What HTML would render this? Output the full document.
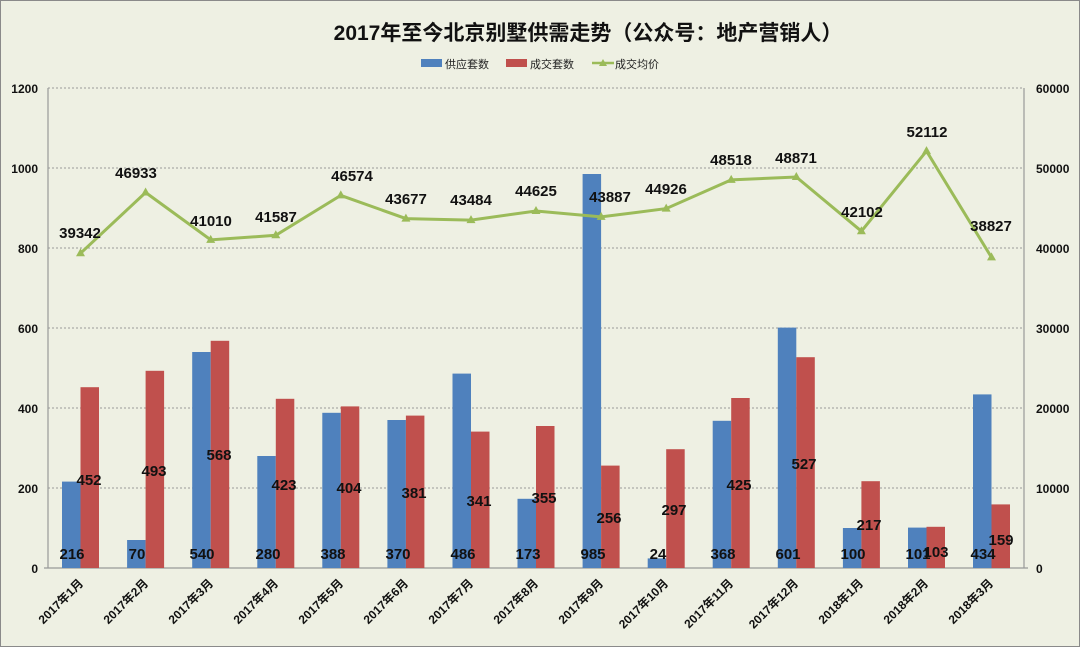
<!DOCTYPE html><html><head><meta charset="utf-8"><style>body{margin:0;background:#fff}svg{display:block}text{font-family:"Liberation Sans","Noto Sans CJK SC",sans-serif}</style></head><body>
<svg width="1080" height="647" viewBox="0 0 1080 647">
<rect x="0.5" y="0.5" width="1079" height="646" fill="#eef0e3" stroke="#8a8a8a"/>
<text x="588" y="40" font-size="21" font-weight="bold" text-anchor="middle" fill="#111">2017年至今北京别墅供需走势（公众号：地产营销人）</text>
<rect x="421" y="59" width="21" height="8" fill="#4f81bd"/><text x="445" y="68" font-size="11" fill="#222">供应套数</text>
<rect x="506" y="59" width="21" height="8" fill="#c0504d"/><text x="530" y="68" font-size="11" fill="#222">成交套数</text>
<line x1="592" y1="63" x2="614" y2="63" stroke="#9bbb59" stroke-width="2.5"/><polygon points="603,59 607,66 599,66" fill="#9bbb59"/><text x="615" y="68" font-size="11" fill="#222">成交均价</text>
<g stroke="#9a9a9a" stroke-dasharray="2,2" stroke-width="1"><line x1="48" y1="88" x2="1024" y2="88"/><line x1="48" y1="168" x2="1024" y2="168"/><line x1="48" y1="248" x2="1024" y2="248"/><line x1="48" y1="328" x2="1024" y2="328"/><line x1="48" y1="408" x2="1024" y2="408"/><line x1="48" y1="488" x2="1024" y2="488"/></g>
<g stroke="#999" stroke-width="1.2"><line x1="48" y1="88" x2="48" y2="568"/><line x1="1024" y1="88" x2="1024" y2="568"/><line x1="44" y1="568" x2="1028" y2="568"/></g>
<g font-size="12" font-weight="bold" fill="#111" text-anchor="end"><text x="38" y="93">1200</text><text x="38" y="173">1000</text><text x="38" y="253">800</text><text x="38" y="333">600</text><text x="38" y="413">400</text><text x="38" y="493">200</text><text x="38" y="573">0</text></g>
<g font-size="12" font-weight="bold" fill="#111" text-anchor="start"><text x="1036" y="93">60000</text><text x="1036" y="173">50000</text><text x="1036" y="253">40000</text><text x="1036" y="333">30000</text><text x="1036" y="413">20000</text><text x="1036" y="493">10000</text><text x="1036" y="573">0</text></g>
<g fill="#4f81bd">
<rect x="62" y="481.6" width="18.5" height="86.4"/><rect x="127.1" y="540" width="18.5" height="28"/><rect x="192.2" y="352" width="18.5" height="216"/><rect x="257.3" y="456" width="18.5" height="112"/><rect x="322.3" y="412.8" width="18.5" height="155.2"/><rect x="387.4" y="420" width="18.5" height="148"/><rect x="452.5" y="373.6" width="18.5" height="194.4"/><rect x="517.5" y="498.8" width="18.5" height="69.2"/><rect x="582.6" y="174" width="18.5" height="394"/><rect x="647.7" y="558.4" width="18.5" height="9.6"/><rect x="712.7" y="420.8" width="18.5" height="147.2"/><rect x="777.8" y="327.6" width="18.5" height="240.4"/><rect x="842.9" y="528" width="18.5" height="40"/><rect x="908" y="527.6" width="18.5" height="40.4"/><rect x="973" y="394.4" width="18.5" height="173.6"/></g>
<g fill="#c0504d">
<rect x="80.5" y="387.2" width="18.5" height="180.8"/><rect x="145.6" y="370.8" width="18.5" height="197.2"/><rect x="210.7" y="340.8" width="18.5" height="227.2"/><rect x="275.8" y="398.8" width="18.5" height="169.2"/><rect x="340.8" y="406.4" width="18.5" height="161.6"/><rect x="405.9" y="415.6" width="18.5" height="152.4"/><rect x="471" y="431.6" width="18.5" height="136.4"/><rect x="536" y="426" width="18.5" height="142"/><rect x="601.1" y="465.6" width="18.5" height="102.4"/><rect x="666.2" y="449.2" width="18.5" height="118.8"/><rect x="731.2" y="398" width="18.5" height="170"/><rect x="796.3" y="357.2" width="18.5" height="210.8"/><rect x="861.4" y="481.2" width="18.5" height="86.8"/><rect x="926.5" y="526.8" width="18.5" height="41.2"/><rect x="991.5" y="504.4" width="18.5" height="63.6"/></g>
<g font-size="15" font-weight="bold" fill="#111" text-anchor="middle">
<text x="72" y="559">216</text><text x="137" y="559">70</text><text x="202" y="559">540</text><text x="268" y="559">280</text><text x="333" y="559">388</text><text x="398" y="559">370</text><text x="463" y="559">486</text><text x="528" y="559">173</text><text x="593" y="559">985</text><text x="658" y="559">24</text><text x="723" y="559">368</text><text x="788" y="559">601</text><text x="853" y="559">100</text><text x="918" y="559">101</text><text x="983" y="559">434</text>
<text x="89" y="485">452</text><text x="154" y="476">493</text><text x="219" y="460">568</text><text x="284" y="490">423</text><text x="349" y="493">404</text><text x="414" y="498">381</text><text x="479" y="506">341</text><text x="544" y="503">355</text><text x="609" y="523">256</text><text x="674" y="515">297</text><text x="739" y="490">425</text><text x="804" y="469">527</text><text x="869" y="530">217</text><text x="936" y="557">103</text><text x="1001" y="545">159</text>
</g>
<polyline fill="none" stroke="#9bbb59" stroke-width="3" points="80.5,253.3 145.6,192.5 210.7,239.9 275.8,235.3 340.8,195.4 405.9,218.6 471,220.1 536,211 601.1,216.9 666.2,208.6 731.2,179.9 796.3,177 861.4,231.2 926.5,151.1 991.5,257.4"/>
<g fill="#9bbb59">
<polygon points="80.5,248.3 85,256.3 76,256.3"/><polygon points="145.6,187.5 150.1,195.5 141.1,195.5"/><polygon points="210.7,234.9 215.2,242.9 206.2,242.9"/><polygon points="275.8,230.3 280.3,238.3 271.3,238.3"/><polygon points="340.8,190.4 345.3,198.4 336.3,198.4"/><polygon points="405.9,213.6 410.4,221.6 401.4,221.6"/><polygon points="471,215.1 475.5,223.1 466.5,223.1"/><polygon points="536,206 540.5,214 531.5,214"/><polygon points="601.1,211.9 605.6,219.9 596.6,219.9"/><polygon points="666.2,203.6 670.7,211.6 661.7,211.6"/><polygon points="731.2,174.9 735.7,182.9 726.7,182.9"/><polygon points="796.3,172 800.8,180 791.8,180"/><polygon points="861.4,226.2 865.9,234.2 856.9,234.2"/><polygon points="926.5,146.1 931,154.1 922,154.1"/><polygon points="991.5,252.4 996,260.4 987,260.4"/></g>
<g font-size="15" font-weight="bold" fill="#111" text-anchor="middle">
<text x="80" y="238">39342</text><text x="136" y="178">46933</text><text x="211" y="226">41010</text><text x="276" y="222">41587</text><text x="352" y="181">46574</text><text x="406" y="204">43677</text><text x="471" y="205">43484</text><text x="536" y="196">44625</text><text x="610" y="202">43887</text><text x="666" y="194">44926</text><text x="731" y="165">48518</text><text x="796" y="163">48871</text><text x="862" y="217">42102</text><text x="927" y="137">52112</text><text x="991" y="231">38827</text>
</g>
<g font-size="12" font-weight="bold" fill="#111" text-anchor="end">
<text transform="translate(84,584) rotate(-45)">2017年1月</text><text transform="translate(149,584) rotate(-45)">2017年2月</text><text transform="translate(214,584) rotate(-45)">2017年3月</text><text transform="translate(279,584) rotate(-45)">2017年4月</text><text transform="translate(344,584) rotate(-45)">2017年5月</text><text transform="translate(409,584) rotate(-45)">2017年6月</text><text transform="translate(474,584) rotate(-45)">2017年7月</text><text transform="translate(539,584) rotate(-45)">2017年8月</text><text transform="translate(604,584) rotate(-45)">2017年9月</text><text transform="translate(669,584) rotate(-45)">2017年10月</text><text transform="translate(734,584) rotate(-45)">2017年11月</text><text transform="translate(799,584) rotate(-45)">2017年12月</text><text transform="translate(864,584) rotate(-45)">2018年1月</text><text transform="translate(929,584) rotate(-45)">2018年2月</text><text transform="translate(994,584) rotate(-45)">2018年3月</text>
</g>
</svg></body></html>
